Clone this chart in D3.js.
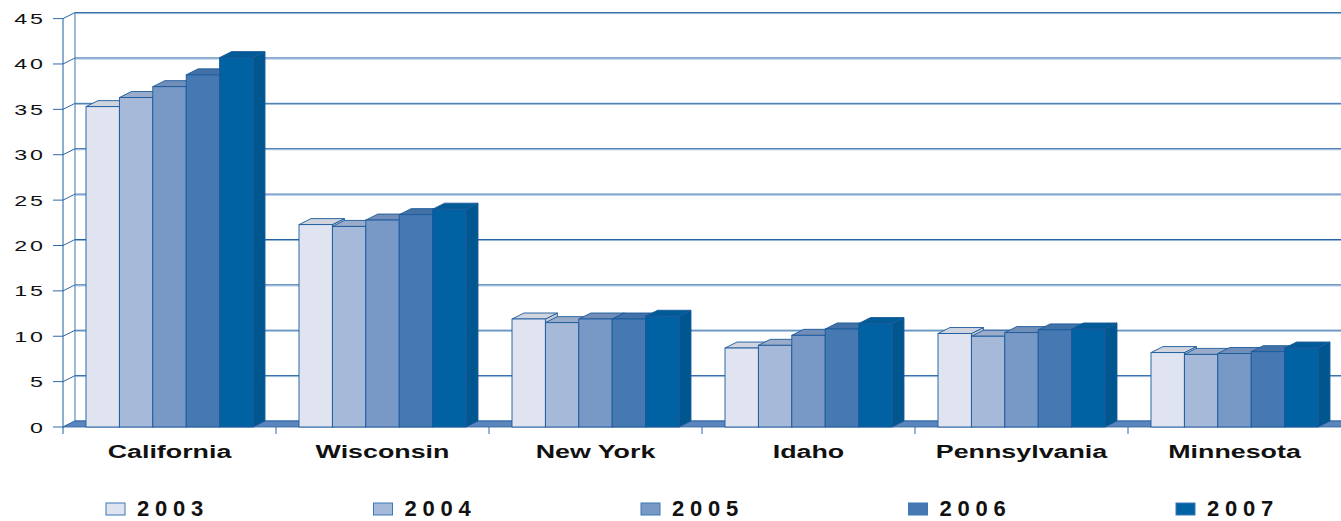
<!DOCTYPE html>
<html>
<head>
<meta charset="utf-8">
<script src="https://cdn.jsdelivr.net/npm/d3@7"></script>
<style>
  body { margin: 0; background: #fff; }
  svg { display: block; font-family: "Liberation Sans", Arial, sans-serif; }
</style>
</head>
<body>
<div id="chart"></div>
<script>
// data
var states = ["California", "Wisconsin", "New York", "Idaho", "Pennsylvania", "Minnesota"];
var years = ["2003", "2004", "2005", "2006", "2007"];
var v2003 = [35.3, 22.3, 11.9, 8.7, 10.3, 8.2];
var v2004 = [36.3, 22.1, 11.5, 9.0, 10.0, 8.0];
var v2005 = [37.5, 22.8, 11.9, 10.1, 10.4, 8.1];
var v2006 = [38.8, 23.4, 11.9, 10.8, 10.7, 8.3];
var v2007 = [40.7, 24.0, 12.2, 11.4, 10.8, 8.7];
var yTicks = [0, 5, 10, 15, 20, 25, 30, 35, 40, 45];
var colors = ["#dfe4f0", "#a6b9d9", "#7898c6", "#4679b2", "#0062a2"];

var series = [v2003, v2004, v2005, v2006, v2007];

var W = 1341, H = 521;
var DX = 12, DY = -6;   // depth of the 3d box

var svg = d3.select("#chart").append("svg")
    .attr("width", W)
    .attr("height", H);

var x0 = d3.scaleBand().domain(states).range([63, 1341]).padding(0);
var x1 = d3.scaleBand().domain(years).range([23, 190]).padding(0);
var y = d3.scaleLinear().domain([0, 45]).range([427, 18.6]);

var color = d3.scaleOrdinal().domain(years).range(colors);

// back wall gridlines
var grid = svg.append("g");
grid.selectAll(".gl")
  .data(yTicks)
  .enter().append("line")
    .attr("x1", 63 + DX).attr("x2", W)
    .attr("y1", function(d) { return y(d) + DY; })
    .attr("y2", function(d) { return y(d) + DY; })
    .attr("stroke", "#2462a2")
    .attr("stroke-width", 1);
grid.selectAll(".gl2")
  .data(yTicks)
  .enter().append("line")
    .attr("x1", 63 + DX).attr("x2", W)
    .attr("y1", function(d) { return y(d) + DY + 1; })
    .attr("y2", function(d) { return y(d) + DY + 1; })
    .attr("stroke", "#93b4d8")
    .attr("stroke-width", 1);

// side wall diagonals
grid.selectAll(".diag")
  .data(yTicks)
  .enter().append("line")
    .attr("x1", 63).attr("x2", 63 + DX)
    .attr("y1", function(d) { return y(d); })
    .attr("y2", function(d) { return y(d) + DY; })
    .attr("stroke", "#2a66a6");

grid.append("line")
    .attr("x1", 63 + DX).attr("x2", 63 + DX)
    .attr("y1", y(45) + DY).attr("y2", y(0) + DY)
    .attr("stroke", "#3d78b4");

// floor
svg.append("path")
    .attr("d", "M63," + y(0) + "L" + W + "," + y(0) + "L" + (W + DX) + "," + (y(0) + DY) + "L" + (63 + DX) + "," + (y(0) + DY) + "Z")
    .attr("fill", "#5b86bd")
    .attr("stroke", "#2a62a0")
    .attr("stroke-width", 0.8);

// bars
var bars = [];
states.forEach(function(s, i) {
    years.forEach(function(yr, j) {
        bars.push({state: s, year: yr, value: series[j][i]});
    });
});

var bar = svg.selectAll(".bar")
  .data(bars)
  .enter().append("g")
    .attr("class", "bar")
    .attr("transform", function(d) { return "translate(" + (x0(d.state) + x1(d.year)) + ",0)"; });

var bw = x1.bandwidth();

// side face
bar.append("path")
    .attr("d", function(d) {
        var t = y(d.value), b = y(0);
        return "M" + bw + "," + t + "L" + (bw + DX) + "," + (t + DY) + "L" + (bw + DX) + "," + (b + DY) + "L" + bw + "," + b + "Z";
    })
    .attr("fill", function(d) { return d3.color(color(d.year)).darker(0.35); })
    .attr("stroke", "#1b5a9c")
    .attr("stroke-width", 0.9);

// top face
bar.append("path")
    .attr("d", function(d) {
        var t = y(d.value);
        return "M0," + t + "L" + DX + "," + (t + DY) + "L" + (bw + DX) + "," + (t + DY) + "L" + bw + "," + t + "Z";
    })
    .attr("fill", function(d) { return d3.color(color(d.year)).darker(0.2); })
    .attr("stroke", "#1b5a9c")
    .attr("stroke-width", 0.9);

// front face
bar.append("rect")
    .attr("x", 0)
    .attr("y", function(d) { return y(d.value); })
    .attr("width", bw)
    .attr("height", function(d) { return y(0) - y(d.value); })
    .attr("fill", function(d) { return color(d.year); })
    .attr("stroke", "#1b5a9c")
    .attr("stroke-width", 0.9);

// y axis
svg.append("line")
    .attr("x1", 63).attr("x2", 63)
    .attr("y1", y(45)).attr("y2", y(0) + 7)
    .attr("stroke", "#1f5e9f");

svg.selectAll(".ytick")
  .data(yTicks)
  .enter().append("line")
    .attr("x1", 53).attr("x2", 63)
    .attr("y1", function(d) { return y(d); })
    .attr("y2", function(d) { return y(d); })
    .attr("stroke", "#2f6aa8");

svg.selectAll(".ylab")
  .data(yTicks)
  .enter().append("text")
    .attr("transform", function(d) { return "translate(46," + (y(d) + 5.5) + ") scale(1.5,1)"; })
    .attr("text-anchor", "end")
    .style("font-size", "15.5px")
    .style("letter-spacing", "2px")
    .attr("fill", "#111")
    .text(function(d) { return d; });

// category ticks under the floor
svg.selectAll(".xtick")
  .data(states.slice(1))
  .enter().append("line")
    .attr("x1", function(d) { return x0(d); })
    .attr("x2", function(d) { return x0(d); })
    .attr("y1", y(0)).attr("y2", y(0) + 7)
    .attr("stroke", "#2f6aa8");

svg.selectAll(".xlab")
  .data(states)
  .enter().append("text")
    .attr("transform", function(d) { return "translate(" + (x0(d) + 23 + 167 / 2) + ",458) scale(1.45,1)"; })
    .attr("text-anchor", "middle")
    .style("font-size", "18.5px")
    .style("font-weight", "bold")
    .attr("fill", "#111")
    .text(function(d) { return d; });

// legend
var legend = svg.selectAll(".legend")
  .data(years)
  .enter().append("g")
    .attr("class", "legend")
    .attr("transform", function(d, i) { return "translate(" + (106 + i * 267.5) + ",503)"; });

legend.append("rect")
    .attr("width", 19)
    .attr("height", 12)
    .attr("fill", function(d) { return color(d); })
    .attr("stroke", "#3a78b8")
    .attr("stroke-width", 1);

legend.append("text")
    .attr("x", 31)
    .attr("y", 13)
    .style("font-size", "22px")
    .style("font-weight", "bold")
    .style("letter-spacing", "5.8px")
    .attr("fill", "#111")
    .text(function(d) { return d; });
</script>
</body>
</html>
